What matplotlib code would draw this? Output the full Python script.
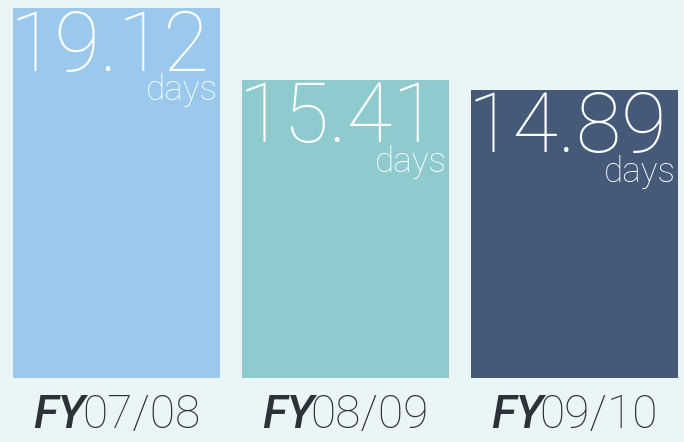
import matplotlib
matplotlib.use("Agg")
import matplotlib.pyplot as plt

categories = ["07/08", "08/09", "09/10"]
values = [19.12, 15.41, 14.89]
value_labels = ["19.12", "15.41", "14.89"]
unit = "days"
prefix = "FY"
colors = ["#9BC9ED", "#8FCBCE", "#445A78"]
bg = "#EAF6F5"

W, H = 684, 442
fig = plt.figure(figsize=(W / 72, H / 72), dpi=72, facecolor=bg)
ax = fig.add_axes([13 / W, 64 / H, 665 / W, 370 / H])
ax.set_facecolor(bg)
bw = 0.904
xs = list(range(len(values)))
ax.bar(xs, values, width=bw, color=colors)
ax.set_xlim(-bw / 2, len(values) - 1 + bw / 2)
ax.set_ylim(0, max(values))
ax.axis("off")

fam = ["Roboto", "DejaVu Sans"]
for x, v, lab in zip(xs, values, value_labels):
    ax.annotate(lab, xy=(x - bw / 2, v), xytext=(-4, 0), textcoords="offset points",
                ha="left", va="top", fontsize=83, color="white", family=fam,
                fontweight="light")
    ax.annotate(unit, xy=(x + bw / 2, v), xytext=(-2, -92), textcoords="offset points",
                ha="right", va="baseline", fontsize=35, color="white", family=fam,
                fontweight="light")

# category labels
fig.canvas.draw()
r = fig.canvas.get_renderer()
for x, c in zip(xs, categories):
    t1 = ax.annotate(prefix, xy=(x, 0), xytext=(0, -50), textcoords="offset points",
                     ha="left", va="baseline", fontsize=46, color="#2E3138",
                     family=fam, fontweight="medium", fontstyle="italic")
    t2 = ax.annotate(c, xy=(1, 0), xycoords=t1, xytext=(-3, 0), textcoords="offset points",
                     ha="left", va="bottom", fontsize=46, color="#2E3138",
                     family=fam, fontweight="light")
    fig.canvas.draw()
    w = t1.get_window_extent(r).width + t2.get_window_extent(r).width - 3
    t1.set_position((-w / 2, -50))

fig.savefig("out.png", dpi=72, facecolor=bg)
